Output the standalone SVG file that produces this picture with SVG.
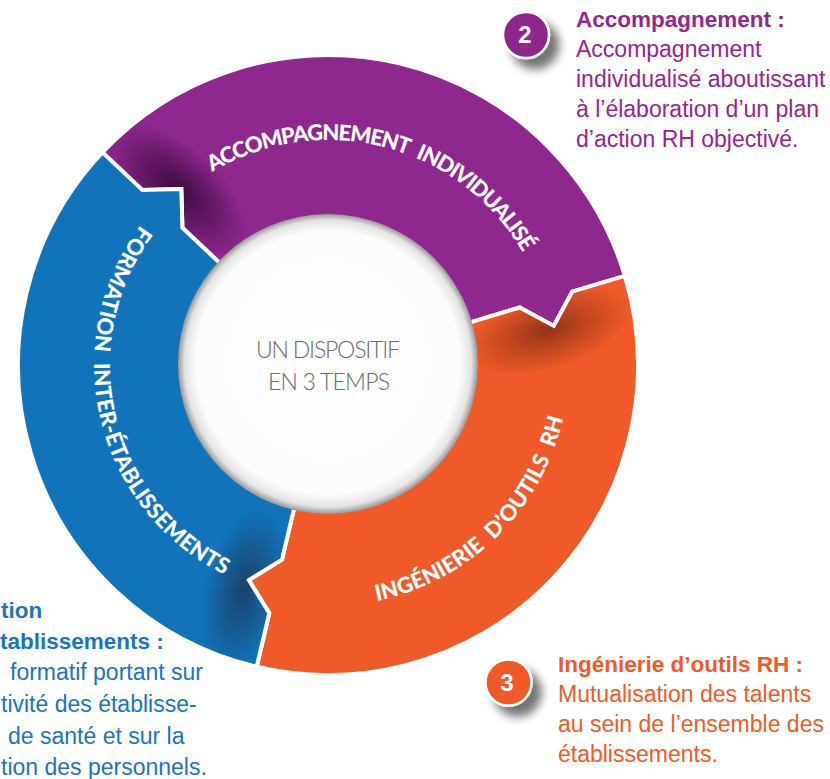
<svg xmlns="http://www.w3.org/2000/svg" xmlns:xlink="http://www.w3.org/1999/xlink" width="830" height="779" viewBox="0 0 830 779">
<style>
.stroke{fill:none;stroke:#fff;stroke-width:4;stroke-linejoin:miter}
.lbl{font-family:Lato,'Open Sans','Liberation Sans',sans-serif;font-weight:900;font-size:22px;fill:#fff;word-spacing:6px}
.side{font-family:'Liberation Sans',Arial,sans-serif;font-size:23px}
.b{font-weight:700;font-size:22.5px}
.pur{fill:#92278f}
.blu{fill:#1b75bc}
.ora{fill:#f15a29}
.num{font-family:'Liberation Sans',Arial,sans-serif;font-weight:700;font-size:24px;fill:#fff;text-anchor:middle}
.ctr{font-family:Lato,'Open Sans',sans-serif;font-weight:300;font-size:23px;fill:#6b6b6b;text-anchor:middle}
</style>
<defs>
<path id="p-pur" d="M226.1 269.0 L182.4 227.8 L181.3 189.0 L142.4 190.1 L102.4 152.4 A310 310 0 0 1 624.9 275.9 L572.2 291.7 L553.8 325.9 L519.6 307.5 L462.1 324.8 A140 140 0 0 0 226.1 269.0 Z"/>
<path id="p-ora" d="M462.1 324.8 L519.6 307.5 L553.8 325.9 L572.2 291.7 L624.9 275.9 A310 310 0 0 1 256.7 666.7 L269.3 613.2 L248.9 580.1 L282.0 559.6 L295.8 501.2 A140 140 0 0 0 462.1 324.8 Z"/>
<path id="p-blu" d="M295.8 501.2 L282.0 559.6 L248.9 580.1 L269.3 613.2 L256.7 666.7 A310 310 0 0 1 102.4 152.4 L142.4 190.1 L181.3 189.0 L182.4 227.8 L226.1 269.0 A140 140 0 0 0 295.8 501.2 Z"/>
<clipPath id="c-pur"><use xlink:href="#p-pur"/></clipPath>
<clipPath id="c-ora"><use xlink:href="#p-ora"/></clipPath>
<clipPath id="c-blu"><use xlink:href="#p-blu"/></clipPath>
<radialGradient id="sh-pur"><stop offset="0" stop-color="#2e0630" stop-opacity="0.85"/><stop offset="0.55" stop-color="#2e0630" stop-opacity="0.4"/><stop offset="1" stop-color="#2e0630" stop-opacity="0"/></radialGradient>
<radialGradient id="sh-ora"><stop offset="0" stop-color="#7a2c14" stop-opacity="0.8"/><stop offset="0.55" stop-color="#7a2c14" stop-opacity="0.35"/><stop offset="1" stop-color="#7a2c14" stop-opacity="0"/></radialGradient>
<radialGradient id="sh-blu"><stop offset="0" stop-color="#1b3a5e" stop-opacity="0.85"/><stop offset="0.55" stop-color="#1b3a5e" stop-opacity="0.4"/><stop offset="1" stop-color="#1b3a5e" stop-opacity="0"/></radialGradient>
<radialGradient id="cg" cx="0.5" cy="0.5" r="0.5" fx="0.5" fy="0.46"><stop offset="0" stop-color="#ffffff"/><stop offset="0.88" stop-color="#fcfcfc"/><stop offset="0.955" stop-color="#e4e4e4"/><stop offset="1" stop-color="#979797"/></radialGradient>
<filter id="ds" x="-60%" y="-60%" width="240%" height="240%"><feGaussianBlur in="SourceAlpha" stdDeviation="5"/><feOffset dx="9" dy="10"/><feComponentTransfer><feFuncA type="linear" slope="0.55"/></feComponentTransfer><feMerge><feMergeNode/><feMergeNode in="SourceGraphic"/></feMerge></filter>
<path id="arc-pur" d="M110.2 308.7 A225 225 0 0 1 384.3 147.2 A225 225 0 0 1 545.8 421.3"/>
<path id="arc-blu" d="M273.4 137.5 A234 234 0 0 0 100.5 419.6 A234 234 0 0 0 382.6 592.5"/>
<path id="arc-ora" d="M156.1 533.9 A241 241 0 0 0 496.9 536.9 A241 241 0 0 0 499.9 196.1"/>
</defs>
<rect width="830" height="779" fill="#fff"/>

<g id="seg-accompagnement">
<use xlink:href="#p-pur" fill="#8e278e"/>
<g clip-path="url(#c-pur)"><ellipse cx="0" cy="0" rx="85" ry="42" fill="url(#sh-pur)" transform="translate(178 190) rotate(223.3)"/></g>
<use xlink:href="#p-pur" class="stroke"/>
<text class="lbl"><textPath xlink:href="#arc-pur" startOffset="50%" text-anchor="middle" textLength="357">ACCOMPAGNEMENT INDIVIDUALISÉ</textPath></text>
</g>

<g id="seg-ingenierie">
<use xlink:href="#p-ora" fill="#f05a28"/>
<g clip-path="url(#c-ora)"><ellipse cx="0" cy="0" rx="85" ry="40" fill="url(#sh-ora)" transform="translate(548 330) rotate(343.3)"/></g>
<use xlink:href="#p-ora" class="stroke"/>
<text class="lbl"><textPath xlink:href="#arc-ora" startOffset="50%" text-anchor="middle" textLength="276">INGÉNIERIE D’OUTILS RH</textPath></text>
</g>

<g id="seg-formation">
<use xlink:href="#p-blu" fill="#1174bb"/>
<g clip-path="url(#c-blu)"><ellipse cx="0" cy="0" rx="85" ry="40" fill="url(#sh-blu)" transform="translate(244 590) rotate(103.3)"/></g>
<use xlink:href="#p-blu" class="stroke"/>
<text class="lbl"><textPath xlink:href="#arc-blu" startOffset="50%" text-anchor="middle" textLength="410">FORMATION INTER-ÉTABLISSEMENTS</textPath></text>
</g>

<g id="center">
<circle cx="328" cy="364" r="150" fill="url(#cg)"/>
<text class="ctr" x="328" y="358" textLength="144">UN DISPOSITIF</text>
<text class="ctr" x="329" y="390" textLength="122">EN 3 TEMPS</text>
</g>

<g id="connectors"></g>

<g id="badge-2">
<circle cx="526" cy="35" r="23" fill="#8e278e" stroke="#fff" stroke-width="2.5" filter="url(#ds)"/>
<text class="num" x="525" y="43">2</text>
</g>
<g id="text-accompagnement" class="side pur">
<text class="b" x="576" y="27">Accompagnement :</text>
<text x="576" y="57">Accompagnement</text>
<text x="576" y="87">individualisé aboutissant</text>
<text x="576" y="117">à l’élaboration d’un plan</text>
<text x="576" y="147">d’action RH objectivé.</text>
</g>

<g id="badge-3">
<circle cx="508.5" cy="682.5" r="23" fill="#f05a28" stroke="#fff" stroke-width="2.5" filter="url(#ds)"/>
<text class="num" x="507" y="691">3</text>
</g>
<g id="text-ingenierie" class="side ora">
<text class="b" x="558" y="672">Ingénierie d’outils RH :</text>
<text x="558" y="702">Mutualisation des talents</text>
<text x="558" y="732">au sein de l’ensemble des</text>
<text x="558" y="762">établissements.</text>
</g>

<g id="text-formation" class="side blu">
<text class="b" x="1" y="618">tion</text>
<text class="b" x="0" y="649">tablissements :</text>
<text x="10" y="680">formatif portant sur</text>
<text x="1" y="712">tivité des établisse-</text>
<text x="8" y="744">de santé et sur la</text>
<text x="1" y="775">tion des personnels.</text>
</g>
</svg>
